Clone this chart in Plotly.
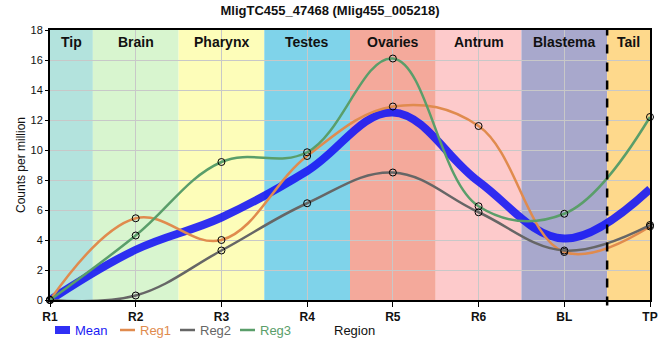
import plotly.graph_objects as go

categories = ["R1", "R2", "R3", "R4", "R5", "R6", "BL", "TP"]
reg1 = [0.0, 5.45, 4.0, 9.6, 12.9, 11.6, 3.2, 4.9]
reg2 = [0.0, 0.3, 3.3, 6.45, 8.5, 5.85, 3.3, 5.0]
reg3 = [0.0, 4.3, 9.2, 9.85, 16.1, 6.25, 5.75, 12.2]
mean = [0.0, 3.35, 5.5, 8.6, 12.5, 7.9, 4.1, 7.4]

band_labels = ["Tip", "Brain", "Pharynx", "Testes", "Ovaries", "Antrum", "Blastema", "Tail"]
band_colors = ["#b3e3dd", "#d8f5cf", "#fdfdb9", "#7fd3ea", "#f4a99b", "#fdcacb", "#a8a8cc", "#fed98c"]

x = list(range(len(categories)))
W, H = 660, 360
ML, MR, MT, MB = 50, 10, 30, 60

fig = go.Figure()

shapes = []
annotations = []
for i, (lab, col) in enumerate(zip(band_labels, band_colors)):
    x0 = max(i - 0.5, 0)
    x1 = min(i + 0.5, len(categories) - 1)
    shapes.append(dict(type="rect", xref="x", yref="y", x0=x0, x1=x1, y0=0, y1=18,
                       fillcolor=col, line=dict(width=0), layer="below"))
    annotations.append(dict(x=(x0 + x1) / 2, y=18, xref="x", yref="y", yanchor="top", yshift=-2,
                            text="<b>" + lab + "</b>", showarrow=False,
                            font=dict(size=14, color="#111", family="Liberation Sans, Arial")))

shapes.append(dict(type="line", xref="x", yref="paper", x0=6.5, x1=6.5, y0=-0.02, y1=1,
                   line=dict(color="black", width=2.5, dash="dash")))

series = [
    ("Mean", mean, "#1a1af5", 8, False, 0.9),
    ("Reg1", reg1, "#e08b4e", 2.5, True, 1.0),
    ("Reg2", reg2, "#666666", 2.5, True, 1.0),
    ("Reg3", reg3, "#5a9e6a", 2.5, True, 1.0),
]
for name, vals, color, width, markers, op in series:
    fig.add_trace(go.Scatter(
        x=x, y=vals, mode="lines+markers" if markers else "lines",
        line=dict(color=color, width=width, shape="spline", smoothing=1.1),
        marker=dict(size=7, color="rgba(0,0,0,0)", line=dict(color="black", width=1)),
        name=name, opacity=op, cliponaxis=False, showlegend=False,
    ))

# manual legend (paper coordinates, pixel-based)
def px(xp):
    return (xp - ML) / (W - ML - MR)
def py(yp):
    return (H - MB - yp) / (H - MT - MB)

leg_y = 330
leg_items = [("Mean", "#1a1af5", 8, 55, 0.9), ("Reg1", "#e08b4e", 2.5, 120, 1.0),
             ("Reg2", "#666666", 2.5, 180, 1.0), ("Reg3", "#5a9e6a", 2.5, 240, 1.0)]
for name, color, width, x0p, op in leg_items:
    shapes.append(dict(type="line", xref="paper", yref="paper", x0=px(x0p), x1=px(x0p + 15),
                       y0=py(leg_y), y1=py(leg_y), line=dict(color=color, width=width), opacity=op))
    annotations.append(dict(x=px(x0p + 18), y=py(leg_y), xref="paper", yref="paper",
                            xanchor="left", yanchor="middle", showarrow=False,
                            text=name,
                            font=dict(size=13, color=color, family="Liberation Sans, Arial")))

annotations.append(dict(x=px(332), y=py(leg_y), xref="paper", yref="paper", xanchor="left", yanchor="middle",
                        text="Region", showarrow=False, font=dict(size=13, color="#111")))

fig.update_layout(
    width=W, height=H,
    margin=dict(l=ML, r=MR, t=MT, b=MB),
    paper_bgcolor="white", plot_bgcolor="white",
    title=dict(text="<b>MligTC455_47468 (Mlig455_005218)</b>", x=0.5, xanchor="center",
               y=1 - 10 / H, yanchor="middle", automargin=False,
               font=dict(size=13, color="#111", family="Liberation Sans, Arial")),
    font=dict(family="Liberation Sans, Arial", size=11, color="#111"),
    shapes=shapes, annotations=annotations,
    showlegend=False,
    xaxis=dict(range=[0, 7], tickmode="array", tickvals=x,
               ticktext=["<b>" + c + "</b>" for c in categories],
               showgrid=True, gridcolor="#c8c8c8", gridwidth=1,
               showline=True, linecolor="black", linewidth=2, mirror=True,
               ticks="outside", ticklen=5, tickcolor="black", zeroline=False,
               tickfont=dict(size=12), automargin=False),
    yaxis=dict(range=[0, 18], dtick=2, title=dict(text="Counts per million", font=dict(size=12), standoff=2),
               showgrid=True, gridcolor="#c8c8c8", gridwidth=1,
               showline=True, linecolor="black", linewidth=2, mirror=True,
               ticks="outside", ticklen=3, tickcolor="black", zeroline=False, automargin=False),
)

fig.write_html("out.html", config={"displayModeBar": False},
               post_script="document.body.style.margin='0';document.body.style.overflow='hidden';")
